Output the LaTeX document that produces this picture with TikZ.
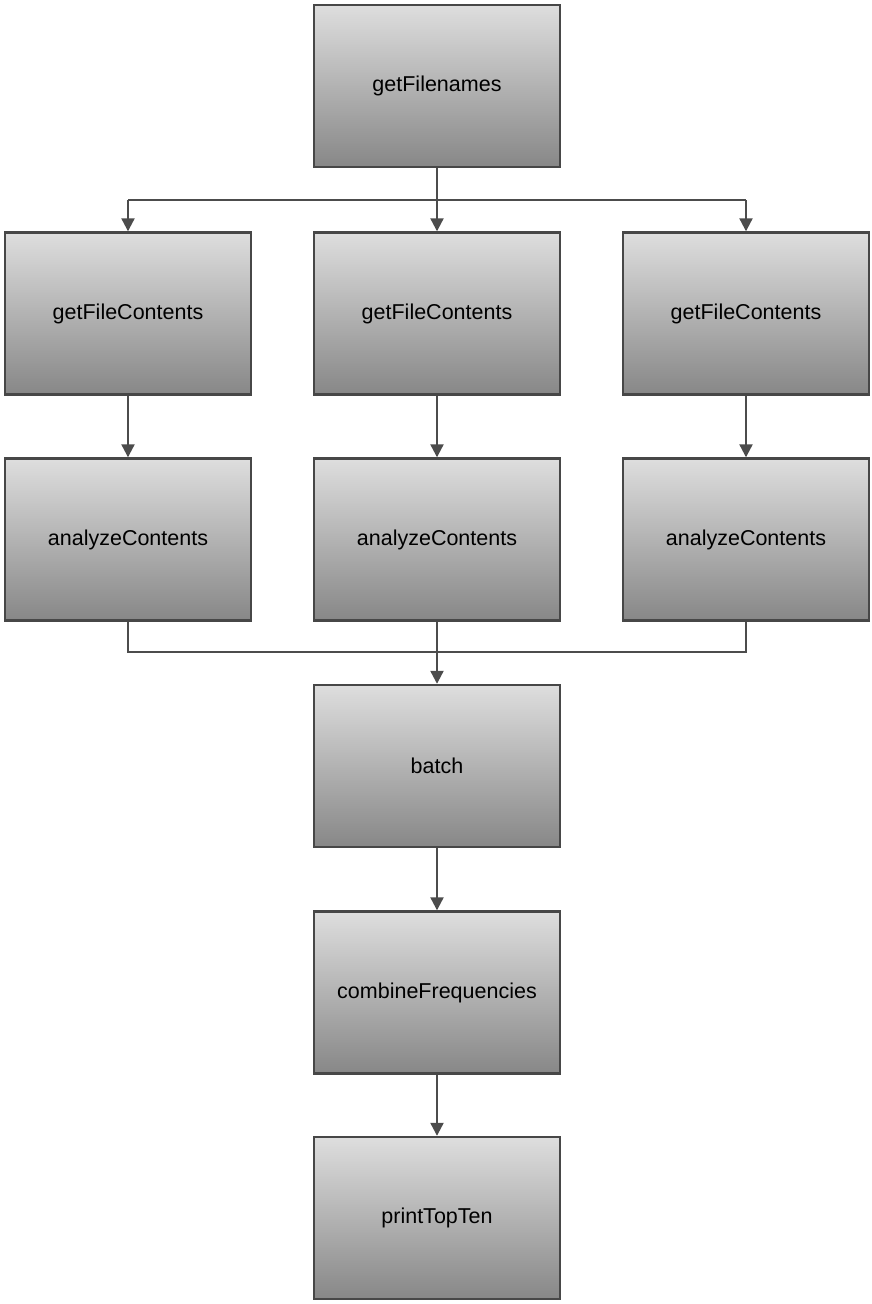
\documentclass[tikz,border=0pt]{standalone}
\usepackage{fontspec}
\setmainfont{Liberation Sans}
\usetikzlibrary{arrows.meta}
\begin{document}
\begin{tikzpicture}[x=1pt,y=-1pt,
  procbox/.style={draw=black!72,line width=2.4pt,top color=black!13,bottom color=black!47,
    minimum width=246pt,minimum height=162pt,inner sep=0pt,
    font=\fontsize{21.5}{24}\selectfont},
  conn/.style={draw=black!70,line width=2.2pt},
  arr/.style={conn,-{Triangle[length=13pt,width=13pt]}}]
\useasboundingbox (0,0) rectangle (872,1304);
\node[procbox] (fn) at (437,86) {getFilenames};
\node[procbox] (c1) at (128,313.5) {getFileContents};
\node[procbox] (c2) at (437,313.5) {getFileContents};
\node[procbox] (c3) at (746,313.5) {getFileContents};
\node[procbox] (a1) at (128,539.5) {analyzeContents};
\node[procbox] (a2) at (437,539.5) {analyzeContents};
\node[procbox] (a3) at (746,539.5) {analyzeContents};
\node[procbox] (b) at (437,766) {batch};
\node[procbox] (cf) at (437,992.5) {combineFrequencies};
\node[procbox] (pt) at (437,1218) {printTopTen};
\coordinate (s1) at (128,200);
\coordinate (s2) at (437,200);
\coordinate (s3) at (746,200);
\coordinate (j1) at (128,652);
\coordinate (j2) at (437,652);
\coordinate (j3) at (746,652);
\draw[conn] (fn.south) -- (s2);
\draw[conn] (s1) -- (s3);
\draw[arr] (s1) -- (c1.north);
\draw[arr] (s2) -- (c2.north);
\draw[arr] (s3) -- (c3.north);
\draw[arr] (c1) -- (a1);
\draw[arr] (c2) -- (a2);
\draw[arr] (c3) -- (a3);
\draw[conn] (a1.south) -- (j1) -- (j3) -- (a3.south);
\draw[conn] (a2.south) -- (j2);
\draw[arr] (j2) -- (b.north);
\draw[arr] (b) -- (cf);
\draw[arr] (cf) -- (pt);
\end{tikzpicture}
\end{document}
